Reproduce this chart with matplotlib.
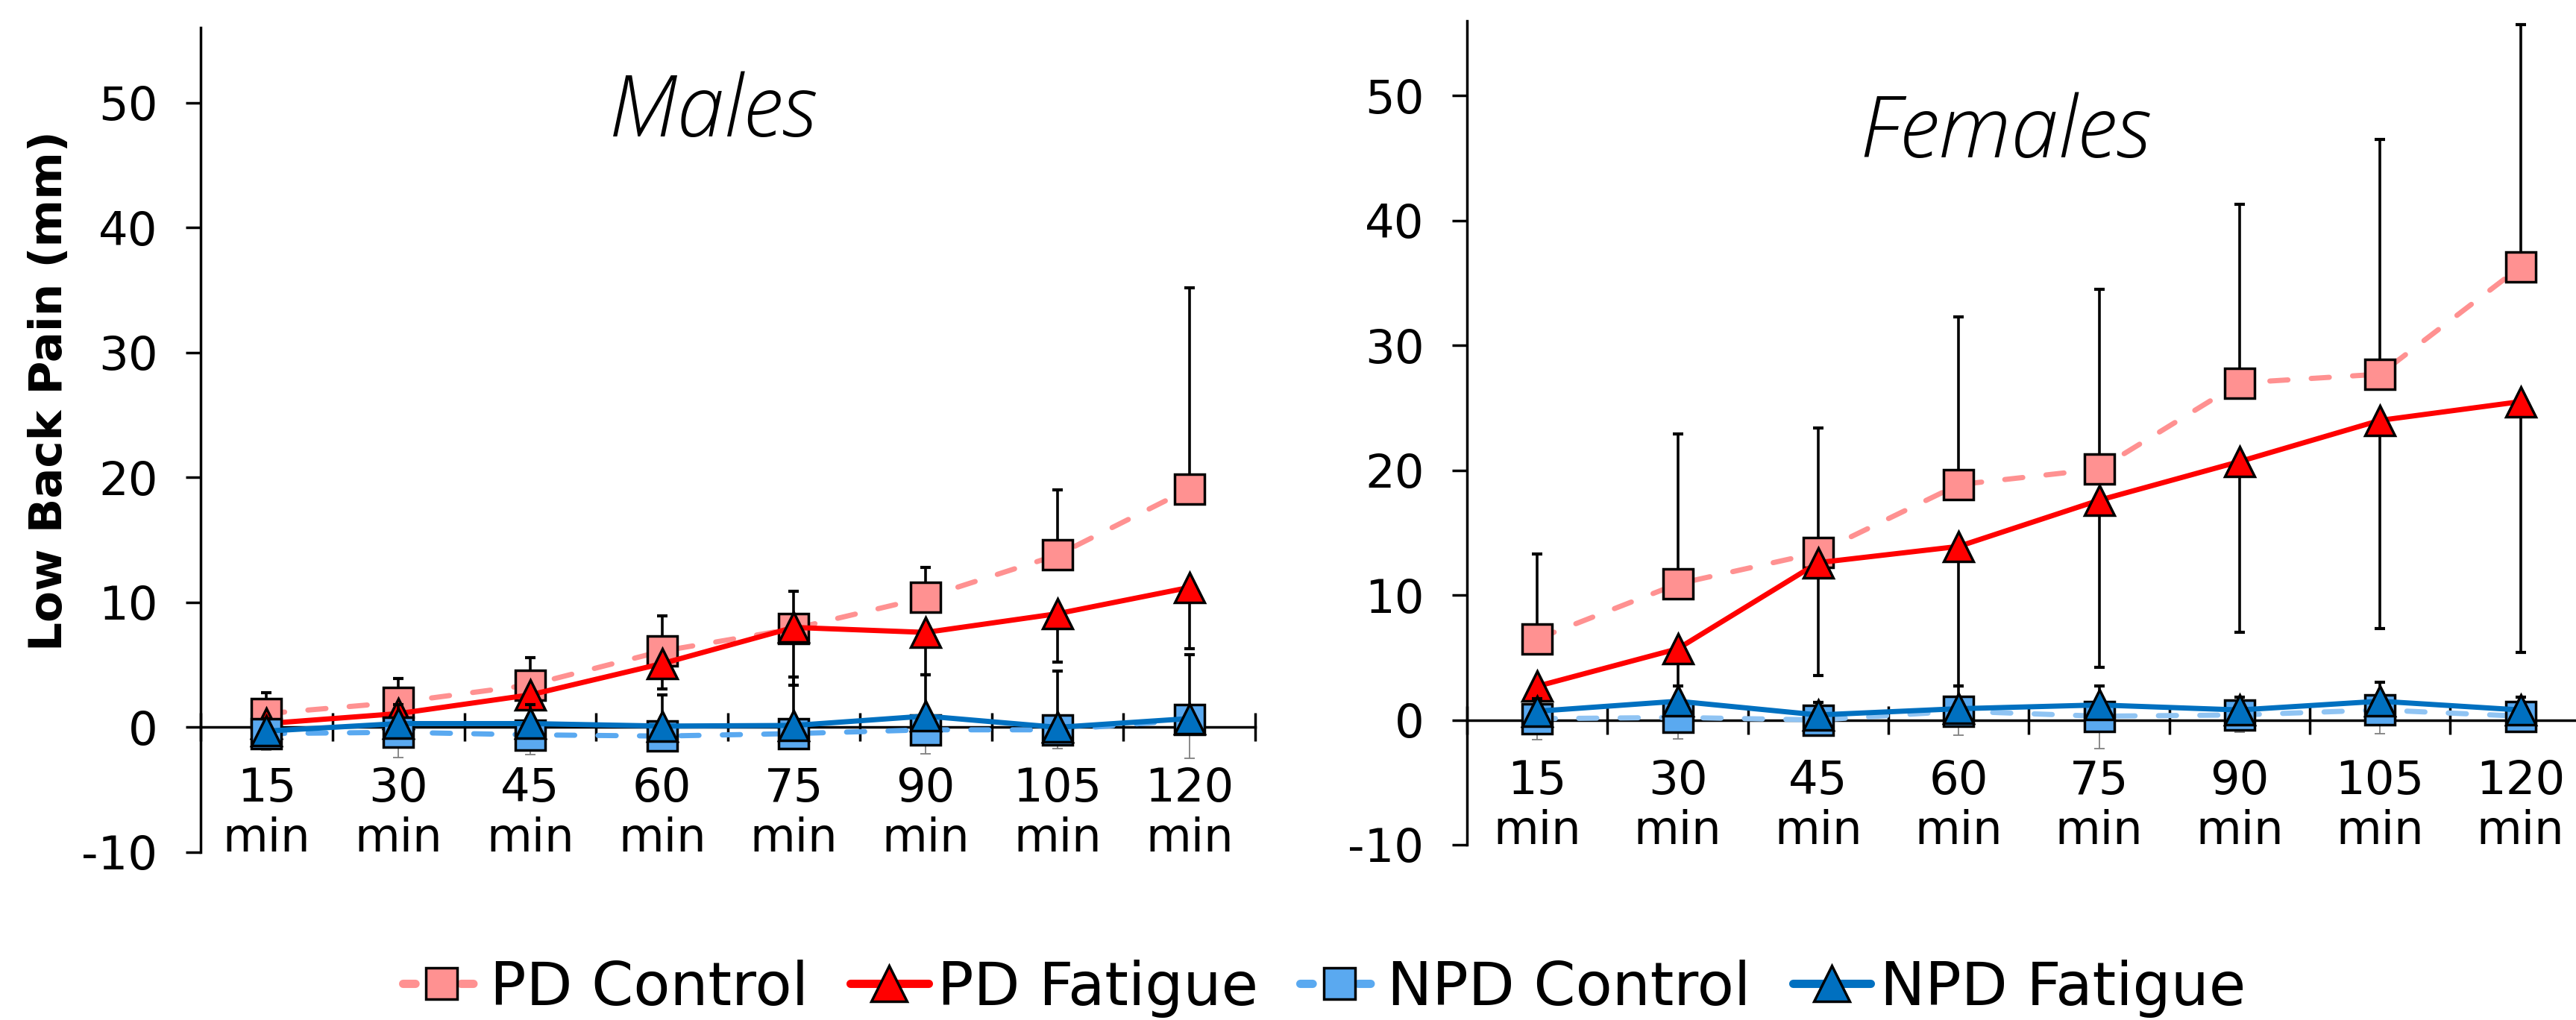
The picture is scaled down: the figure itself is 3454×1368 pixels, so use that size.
import numpy as np
import matplotlib
matplotlib.use('Agg')
import matplotlib.pyplot as plt
from matplotlib.lines import Line2D

plt.rcParams['font.family'] = ['DejaVu Sans']
plt.rcParams['axes.unicode_minus'] = False

# data
times = ['15\nmin', '30\nmin', '45\nmin', '60\nmin', '75\nmin', '90\nmin', '105\nmin', '120\nmin']
series_names = ['PD Control', 'PD Fatigue', 'NPD Control', 'NPD Fatigue']

# Males (errors: PD Control upper, PD Fatigue lower, NPD Control lower, NPD Fatigue upper)
m_pd_ctrl = [1.1, 2.0, 3.4, 6.1, 7.9, 10.4, 13.8, 19.1]
m_pd_ctrl_err = [1.7, 1.9, 2.2, 2.8, 3.0, 2.4, 5.2, 16.1]
m_pd_fat = [0.3, 1.1, 2.6, 5.1, 8.0, 7.6, 9.1, 11.2]
m_pd_fat_err = [0.5, 1.0, 2.0, 2.0, 4.6, 3.4, 3.9, 4.9]
m_npd_ctrl = [-0.5, -0.4, -0.6, -0.7, -0.5, -0.2, -0.2, 0.6]
m_npd_ctrl_err = [1.3, 2.0, 1.6, 1.2, 1.1, 1.9, 1.5, 3.1]
m_npd_fat = [-0.3, 0.3, 0.3, 0.1, 0.15, 0.9, 0.0, 0.7]
m_npd_fat_err = [1.0, 1.5, 1.5, 2.5, 3.9, 3.3, 4.5, 5.1]

# Females
f_pd_ctrl = [6.5, 10.9, 13.4, 18.85, 20.1, 27.0, 27.7, 36.3]
f_pd_ctrl_err = [6.8, 12.0, 10.0, 13.45, 14.4, 14.3, 18.8, 19.4]
f_pd_fat = [2.7, 5.7, 12.6, 13.9, 17.6, 20.7, 24.0, 25.5]
f_pd_fat_err = [2.5, 5.0, 9.05, 11.2, 13.4, 13.7, 16.7, 20.1]
f_npd_ctrl = [0.1, 0.2, 0.0, 0.7, 0.3, 0.4, 0.8, 0.3]
f_npd_ctrl_err = [1.7, 1.7, 0.8, 1.9, 2.6, 1.4, 1.9, 1.1]
f_npd_fat = [0.7, 1.5, 0.4, 0.9, 1.2, 0.8, 1.5, 0.8]
f_npd_fat_err = [1.0, 1.2, 1.0, 1.8, 1.5, 1.0, 1.5, 1.0]

c_pd_ctrl = '#FF9191'
c_pd_fat = '#FF0000'
c_npd_ctrl = '#5AA9F0'
c_npd_fat = '#0070C0'

x = np.arange(1, len(times) + 1)
zeros = np.zeros(len(times))

fig = plt.figure(figsize=(34.54, 13.68), dpi=100)
ax1 = fig.add_axes([0.0779, 0.1645, 0.4094, 0.8081])
ax2 = fig.add_axes([0.5695, 0.1718, 0.4362, 0.8077])

lw = 5
ms = 29
mew = 2.5
dash = (3.5, 4.5)


def draw_panel(ax, pd_c, pd_c_e, pd_f, pd_f_e, npd_c, npd_c_e, npd_f, npd_f_e, npd_line):
    ekw = dict(fmt='none', ecolor='black', elinewidth=2.6, capsize=5, capthick=3)
    # PD Control
    ax.errorbar(x, pd_c, yerr=[zeros, pd_c_e], zorder=2, **ekw)
    ax.plot(x, pd_c, color=c_pd_ctrl, lw=lw, dashes=dash, dash_capstyle='round',
            marker='s', ms=ms, mfc=c_pd_ctrl, mec='black', mew=mew, zorder=3)
    # PD Fatigue
    ax.errorbar(x, pd_f, yerr=[pd_f_e, zeros], zorder=4, **ekw)
    ax.plot(x, pd_f, color=c_pd_fat, lw=lw, marker='^', ms=ms, mfc=c_pd_fat,
            mec='black', mew=mew, zorder=5)
    # NPD Control
    ax.errorbar(x, npd_c, yerr=[npd_c_e, zeros], fmt='none', ecolor='#808080',
                elinewidth=1.3, capsize=5, capthick=1.3, zorder=6)
    ax.plot(x, npd_c, color=npd_line, lw=lw, dashes=dash, dash_capstyle='round',
            marker='s', ms=ms, mfc=c_npd_ctrl, mec='black', mew=mew, zorder=7)
    # NPD Fatigue
    ax.errorbar(x, npd_f, yerr=[zeros, npd_f_e], zorder=8, **ekw)
    ax.plot(x, npd_f, color=c_npd_fat, lw=lw, marker='^', ms=ms, mfc=c_npd_fat,
            mec='black', mew=mew, zorder=9)

    ax.set_xlim(0.5, len(times) + 0.5)
    ax.set_ylim(-10, 56)
    ax.set_yticks(np.arange(-10, 51, 10))
    ax.tick_params(axis='y', direction='out', length=14.5, width=2.5, pad=27, labelsize=45)
    for s in ['top', 'right']:
        ax.spines[s].set_visible(False)
    ax.spines['left'].set_linewidth(2.5)
    ax.spines['bottom'].set_position(('data', 0))
    ax.spines['bottom'].set_linewidth(2.5)
    ax.spines['bottom'].set_zorder(1)
    ax.set_xticks(np.arange(0.5, len(times) + 1, 1))
    ax.set_xticklabels([])
    ax.tick_params(axis='x', which='major', direction='inout', length=27, width=2.5)
    ax.set_xticks(x, minor=True)
    ax.set_xticklabels(times, minor=True, linespacing=1.15)
    ax.tick_params(axis='x', which='minor', length=0, pad=38, labelsize=45)
    ax.patch.set_visible(False)


draw_panel(ax1, m_pd_ctrl, m_pd_ctrl_err, m_pd_fat, m_pd_fat_err,
           m_npd_ctrl, m_npd_ctrl_err, m_npd_fat, m_npd_fat_err, c_npd_ctrl)
draw_panel(ax2, f_pd_ctrl, f_pd_ctrl_err, f_pd_fat, f_pd_fat_err,
           f_npd_ctrl, f_npd_ctrl_err, f_npd_fat, f_npd_fat_err, '#90C4F3')

title_font = dict(fontsize=82, style='italic', fontweight=300,
                  family=['Open Sans', 'Lato', 'DejaVu Sans'])
ax1.text(0.486, 0.868, 'Males', transform=ax1.transAxes, ha='center', va='baseline',
         **title_font)
ax2.text(0.479, 0.834, 'Females', transform=ax2.transAxes, ha='center', va='baseline',
         **title_font)

ax1.set_ylabel('Low Back Pain (mm)', fontsize=44, fontweight='bold', va='center')
ax1.yaxis.set_label_coords(-0.143, 0.56)

# legend
handles = [
    Line2D([], [], color=c_pd_ctrl, lw=8, dashes=(1.5, 2), dash_capstyle='round', marker='s',
           ms=30, mfc=c_pd_ctrl, mec='black', mew=mew),
    Line2D([], [], color=c_pd_fat, lw=8, solid_capstyle='round', marker='^',
           ms=34, mfc=c_pd_fat, mec='black', mew=mew),
    Line2D([], [], color=c_npd_ctrl, lw=8, dashes=(1.5, 2), dash_capstyle='round', marker='s',
           ms=30, mfc=c_npd_ctrl, mec='black', mew=mew),
    Line2D([], [], color=c_npd_fat, lw=8, solid_capstyle='round', marker='^',
           ms=34, mfc=c_npd_fat, mec='black', mew=mew),
]
fig.legend(handles, series_names, loc='center', bbox_to_anchor=(0.514, 0.031), ncol=4,
           frameon=False, fontsize=58, handlelength=1.3, handletextpad=0.15,
           columnspacing=0.7)

fig.savefig('out.png', dpi=100)
